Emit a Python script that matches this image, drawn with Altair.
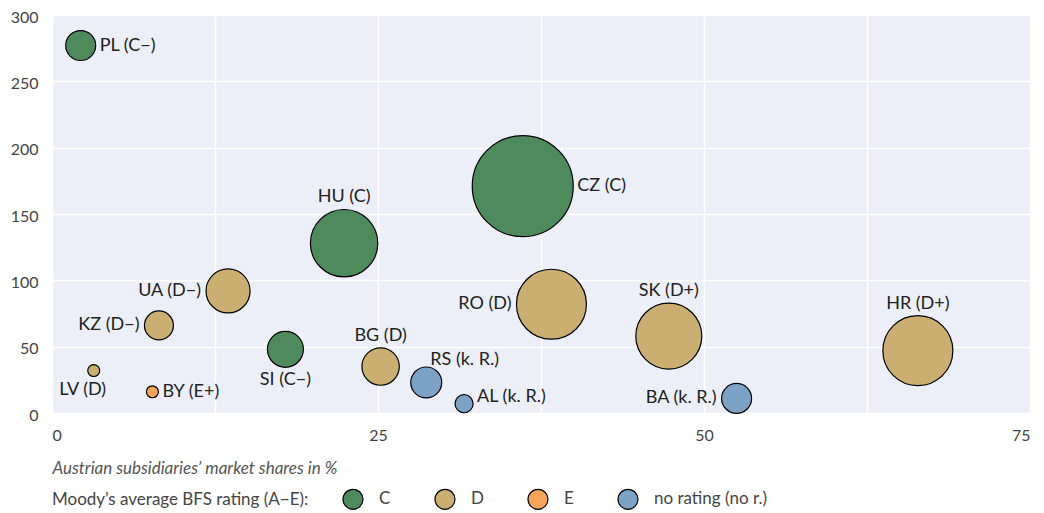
import altair as alt
import pandas as pd

countries = ["PL", "HU", "CZ", "UA", "KZ", "LV", "BY", "SI", "BG", "RS", "AL", "RO", "SK", "BA", "HR"]
labels = ["PL (C−)", "HU (C)", "CZ (C)", "UA (D−)", "KZ (D−)", "LV (D)", "BY (E+)", "SI (C−)",
          "BG (D)", "RS (k. R.)", "AL (k. R.)", "RO (D)", "SK (D+)", "BA (k. R.)", "HR (D+)"]
market_share = [2.2, 22.4, 36.1, 13.5, 8.2, 3.2, 7.7, 17.9, 25.2, 28.7, 31.6, 38.3, 47.3, 52.5, 66.4]
y_values = [277, 128, 171, 92, 66, 32, 16, 48, 35, 23, 7, 82, 58, 11, 47]
bubble = [8.8, 44.5, 100, 19, 8.2, 1.4, 1.4, 12.7, 13.7, 9.4, 3.2, 48, 42.7, 8.8, 48]
NR = "no rating (no r.)"
rating = ["C", "C", "C", "D", "D", "D", "E", "C", "D", NR, NR, "D", "D", NR, "D"]
label_pos = ["right", "above", "right", "left", "left", "belowleft", "right", "below",
             "above", "aboveright", "rightup", "left", "above", "left", "above"]

rating_domain = ["C", "D", "E", NR]
rating_colors = ["#4F8A5D", "#CBAE72", "#F5A55A", "#7CA2C6"]

df = pd.DataFrame({
    "country": countries, "label": labels, "share": market_share, "yv": y_values,
    "bubble": bubble, "rating": rating, "pos": label_pos,
})

FONT = "Lato"
x_scale = alt.Scale(domain=[0, 75], nice=False, zero=True)
y_scale = alt.Scale(domain=[0, 300], nice=False)

x_enc = alt.X("share:Q", scale=x_scale, axis=alt.Axis(
    values=[0, 12.5, 25, 37.5, 50, 62.5, 75],
    labelExpr="datum.value % 25 === 0 ? datum.label : ''",
    labelAlign={"condition": [{"test": "datum.value === 0", "value": "left"},
                              {"test": "datum.value === 75", "value": "right"}],
                "value": "center"},
    labelFlush=False, labelPadding=14, labelFontSize=16, labelColor="#444", labelFont=FONT,
    ticks=False, domain=False, grid=True, gridColor="white", gridWidth=1.5,
    title="Austrian subsidiaries’ market shares in %", titleFont=FONT, titleFontStyle="italic",
    titleFontWeight="normal", titleFontSize=17, titleColor="#555", titleAnchor="start",
    titleAlign="left", titleX=0, titleY=60, titleBaseline="alphabetic",
))
y_enc = alt.Y("yv:Q", scale=y_scale, axis=alt.Axis(
    values=[0, 50, 100, 150, 200, 250, 300], labelPadding=14, labelFontSize=16,
    labelColor="#444", labelFont=FONT, labelOffset=2, ticks=False, domain=False, grid=True,
    gridColor="white", gridWidth=1.5, title=None,
))

base = alt.Chart(df)

points = base.mark_circle(opacity=1, stroke="black", strokeWidth=1.2).encode(
    x=x_enc, y=y_enc,
    size=alt.Size("bubble:Q", scale=alt.Scale(type="linear", domain=[0, 100], range=[0, 10201], zero=True), legend=None),
    color=alt.Color("rating:N", scale=alt.Scale(domain=rating_domain, range=rating_colors),
                    legend=alt.Legend(
                        title="Moody’s average BFS rating (A−E):", orient="none", legendX=0, legendY=473,
                        direction="horizontal", titleOrient="left", titleFont=FONT, titleFontSize=17,
                        titleFontWeight="normal", titleColor="#444", titlePadding=33, titleBaseline="middle",
                        titleLimit=600, labelLimit=300,
                        labelFont=FONT, labelFontSize=17, labelColor="#444", labelOffset=15,
                        columnPadding=41, symbolSize=400, symbolType="circle", symbolStrokeColor="black",
                        symbolStrokeWidth=1.2, symbolOpacity=1, padding=0,
                    )),
)

texts = base.transform_calculate(
    r="sqrt(datum.bubble * 102.01) / 2"
).transform_calculate(
    ox=("datum.pos === 'right' || datum.pos === 'rightup' ? datum.r + 4 : datum.pos === 'left' ? -(datum.r + 5) "
        ": datum.pos === 'aboveright' ? 4 : datum.pos === 'belowleft' ? -11 : 0"),
    oy=("datum.pos === 'above' ? -(datum.r + 7) : (datum.pos === 'below' || datum.pos === 'belowleft') ? datum.r + 4 "
        ": datum.pos === 'aboveright' ? -(datum.r + 2) : datum.pos === 'rightup' ? -7 : 0"),
    al=("datum.pos === 'right' || datum.pos === 'rightup' || datum.pos === 'aboveright' ? 'left' "
        ": datum.pos === 'left' ? 'right' : 'center'"),
    bl=("datum.pos === 'above' || datum.pos === 'aboveright' ? 'alphabetic' "
        ": (datum.pos === 'below' || datum.pos === 'belowleft') ? 'top' : 'middle'"),
).mark_text(
    font=FONT, fontSize=18, color="#222",
    align=alt.ExprRef("datum.al"), baseline=alt.ExprRef("datum.bl"),
    dx=alt.ExprRef("datum.ox"), dy=alt.ExprRef("datum.oy"),
).encode(
    x=alt.X("share:Q", scale=x_scale),
    y=alt.Y("yv:Q", scale=y_scale),
    text="label:N",
)

chart = alt.layer(points, texts).properties(
    width=978, height=398,
    autosize=alt.AutoSizeParams(type="none"),
    padding={"left": 44, "top": 7, "right": 6, "bottom": 100},
    background="white",
).configure_view(fill="#ECEFF7", stroke=None)

chart.save("out.html", embed_options={"renderer": "svg", "actions": False})
